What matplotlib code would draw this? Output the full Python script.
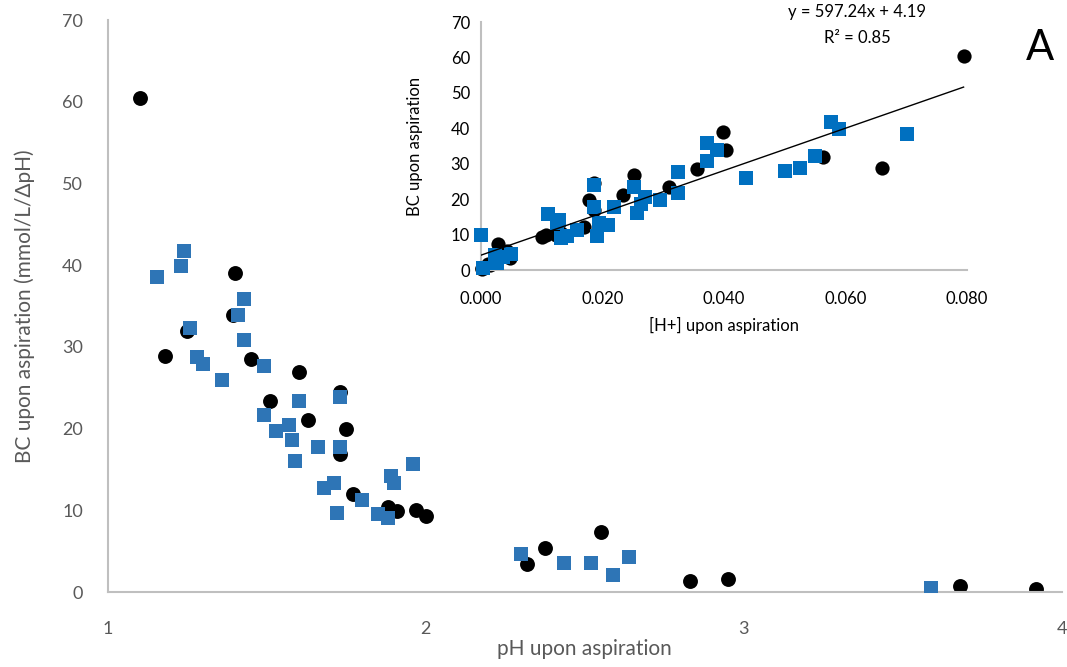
import numpy as np
import matplotlib
matplotlib.use("Agg")
import matplotlib.pyplot as plt

plt.rcParams['font.family'] = ['Lato', 'DejaVu Sans']

# pH / buffer capacity readings, black circles
ph_black = [1.10, 1.18, 1.25, 1.395, 1.40, 1.45, 1.51, 1.60, 1.63, 1.73, 1.73, 1.75,
            1.77, 1.88, 1.91, 1.97, 2.00, 2.32, 2.375, 2.55, 2.83, 2.95, 3.68, 3.92]
bc_black = [60.5, 28.9, 31.9, 33.9, 39.0, 28.5, 23.4, 26.9, 21.1, 24.5, 16.9, 19.9,
            12.0, 10.4, 9.9, 10.0, 9.3, 3.4, 5.4, 7.4, 1.3, 1.6, 0.7, 0.4]

# blue squares (last one lies beyond pH 4, only seen in the inset)
ph_blue = [1.154, 1.23, 1.24, 1.26, 1.28, 1.30, 1.36, 1.41, 1.43, 1.43, 1.49, 1.49,
           1.53, 1.57, 1.58, 1.59, 1.60, 1.66, 1.68, 1.71, 1.72, 1.73, 1.73, 1.80,
           1.85, 1.88, 1.89, 1.90, 1.96, 2.30, 2.435, 2.52, 2.59, 2.64, 3.59, 4.4]
bc_blue = [38.5, 39.9, 41.7, 32.3, 28.8, 27.9, 25.9, 33.9, 35.9, 30.9, 27.7, 21.7,
           19.7, 20.5, 18.6, 16.0, 23.4, 17.7, 12.7, 13.3, 9.7, 23.9, 17.7, 11.3,
           9.5, 9.1, 14.2, 13.4, 15.7, 4.6, 3.6, 3.6, 2.1, 4.3, 0.5, 10.0]

# trendline shown in the inset
slope, intercept = 597.24, 4.19

# [H+] for the inset
h_black = 10.0 ** -np.array(ph_black)
h_blue = 10.0 ** -np.array(ph_blue)

grey = "#595959"
spine_col = "#BFBFBF"

fig = plt.figure(figsize=(10.67, 6.67), dpi=100)

# main plot
ax = fig.add_axes([0.101, 0.1124, 0.894, 0.8576])
ax.scatter(ph_blue, bc_blue, marker="s", s=100, color="#2E75B6", linewidths=0, zorder=3)
ax.scatter(ph_black, bc_black, marker="o", s=115, color="black", linewidths=0, zorder=2)
ax.set_xlim(1, 4)
ax.set_ylim(0, 70)
ax.set_xticks([1, 2, 3, 4])
ax.set_yticks(range(0, 71, 10))
for s in ["top", "right"]:
    ax.spines[s].set_visible(False)
for s in ["left", "bottom"]:
    ax.spines[s].set_color(spine_col)
    ax.spines[s].set_linewidth(1.5)
ax.tick_params(length=0, pad=18, labelsize=13, labelcolor=grey)
ax.tick_params(axis="x", pad=21)
ax.set_xlabel("pH upon aspiration", fontsize=15, color=grey)
ax.set_ylabel("BC upon aspiration (mmol/L/ΔpH)", fontsize=15, color=grey)
ax.xaxis.set_label_coords(0.5, -0.082)
ax.yaxis.set_label_coords(-0.076, 0.5)

# inset
ins = fig.add_axes([0.4508, 0.5952, 0.4555, 0.3718])
ins.patch.set_alpha(0)
ins.scatter(h_blue, bc_blue, marker="s", s=100, color="#0070C0", linewidths=0,
            zorder=3, clip_on=False)
ins.scatter(h_black, bc_black, marker="o", s=105, color="black", linewidths=0,
            zorder=2, clip_on=False)
xs = np.array([min(h_black.min(), h_blue.min()), max(h_black.max(), h_blue.max())])
ins.plot(xs, slope * xs + intercept, color="black", linewidth=1, zorder=4)
ins.set_xlim(0, 0.08)
ins.set_ylim(0, 70)
ins.set_xticks([0, 0.02, 0.04, 0.06, 0.08])
ins.set_xticklabels(["0.000", "0.020", "0.040", "0.060", "0.080"])
ins.set_yticks(range(0, 71, 10))
for s in ["top", "right"]:
    ins.spines[s].set_visible(False)
for s in ["left", "bottom"]:
    ins.spines[s].set_color(spine_col)
    ins.spines[s].set_linewidth(1.5)
ins.tick_params(length=0, labelsize=12, labelcolor="black")
ins.tick_params(axis="x", pad=15)
ins.tick_params(axis="y", pad=8)
ins.set_xlabel("[H+] upon aspiration", fontsize=12)
ins.set_ylabel("BC upon aspiration", fontsize=12)
ins.xaxis.set_label_coords(0.5, -0.19)
ins.yaxis.set_label_coords(-0.12, 0.5)

fig.text(857 / 1067, 1 - 12 / 667, "y = 597.24x + 4.19", fontsize=12, ha="center", va="center")
fig.text(857 / 1067, 1 - 38 / 667, "R² = 0.85", fontsize=12, ha="center", va="center")
fig.text(1040 / 1067, 1 - 48 / 667, "A", fontsize=30, ha="center", va="center")

fig.savefig("out.png", dpi=100)
